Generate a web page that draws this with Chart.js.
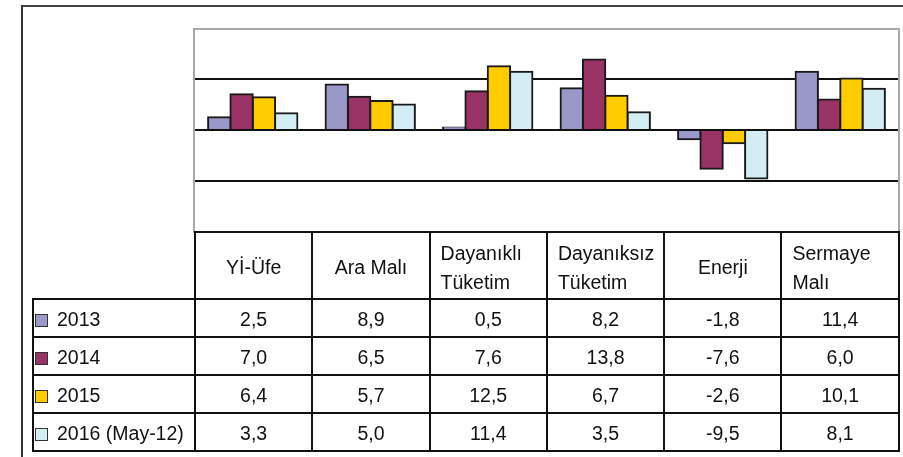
<!DOCTYPE html>
<html>
<head>
<meta charset="utf-8">
<script src="https://cdn.jsdelivr.net/npm/chart.js@4/dist/chart.umd.min.js"></script>
<style>
  html, body { margin: 0; padding: 0; background: #fff; }
  body { width: 903px; height: 457px; overflow: hidden; position: relative;
         font-family: "Liberation Sans", Arial, sans-serif; color: #111; }
  #frame { position: absolute; left: 21px; top: 5px; width: 920px; height: 480px;
           border-left: 2px solid #333; border-top: 2px solid #444; }
  #plotBorder { position: absolute; left: 193px; top: 28px; width: 707px; height: 205px;
                box-sizing: border-box; border: 2px solid #a9a9a9; border-bottom: none; pointer-events: none; }
  #wrap { position: absolute; left: 194px; top: 28px; width: 705px; height: 204px; }
  #tbl { position: absolute; left: 32px; top: 231px; border-collapse: collapse;
         table-layout: fixed; width: 866px; font-size: 19.5px; }
  #tbl td { border: 2px solid #111; padding: 0; white-space: nowrap; }
  #tbl tr.head td { height: 61px; line-height: 29px; padding-top: 4px; }
  #tbl tr.row td { height: 34px; text-align: center; padding-top: 2px; }
  #tbl td.blank { border-top: none; border-left: none; }
  #tbl td.h1 { text-align: center; }
  #tbl td.h2 { text-align: left; padding-left: 10px; }
  #tbl td.lg { text-align: left !important; padding-left: 1px; }
  .sw { display: inline-block; width: 11px; height: 11px; border: 1px solid #333;
        margin-right: 9px; vertical-align: -1px; }
</style>
</head>
<body>
<div id="frame"></div>
<div id="wrap"><canvas id="myChart" width="705" height="204"></canvas></div>
<div id="plotBorder"></div>
<table id="tbl"></table>
<script>
// categories (header of the data table)
var categories = ['Yİ-Üfe', 'Ara Malı', 'Dayanıklı\nTüketim', 'Dayanıksız\nTüketim', 'Enerji', 'Sermaye\nMalı'];
// series
var seriesNames = ['2013', '2014', '2015', '2016 (May-12)'];
var v2013 = [2.5, 8.9, 0.5, 8.2, -1.8, 11.4];
var v2014 = [7.0, 6.5, 7.6, 13.8, -7.6, 6.0];
var v2015 = [6.4, 5.7, 12.5, 6.7, -2.6, 10.1];
var v2016 = [3.3, 5.0, 11.4, 3.5, -9.5, 8.1];
var seriesColors = ['#9a97c9', '#993366', '#ffcc00', '#d3edf4'];
var yTicks = [-10, 0, 10];

var allValues = [v2013, v2014, v2015, v2016];

function fmt(v) {
  return v.toFixed(1).replace('.', ',');
}

// bars
var ctx = document.getElementById('myChart').getContext('2d');
var myChart = new Chart(ctx, {
  type: 'bar',
  data: {
    labels: categories,
    datasets: allValues.map(function (vals, i) {
      return {
        label: seriesNames[i],
        data: vals,
        backgroundColor: seriesColors[i],
        borderColor: '#1a1a1a',
        borderWidth: 2,
        inflateAmount: 1
      };
    })
  },
  options: {
    responsive: false,
    animation: false,
    devicePixelRatio: 1,
    layout: { padding: 0 },
    datasets: { bar: { categoryPercentage: 0.76, barPercentage: 1.0 } },
    plugins: { legend: { display: false }, tooltip: { enabled: false } },
    scales: {
      x: { display: false },
      y: {
        min: -20, max: 20,
        ticks: { display: false, stepSize: 10 },
        border: { display: false },
        grid: {
          drawTicks: false,
          lineWidth: 2,
          color: function (c) {
            return yTicks.indexOf(c.tick.value) >= 0 ? '#111' : 'rgba(0,0,0,0)';
          }
        }
      }
    }
  }
});

// data table under the chart
var tbl = document.getElementById('tbl');
var cg = '<colgroup><col style="width:162px">';
categories.forEach(function () { cg += '<col style="width:117.3px">'; });
cg += '</colgroup>';
var html = cg + '<tr class="head"><td class="blank"></td>';
categories.forEach(function (c) {
  var lines = c.split('\n');
  html += '<td class="' + (lines.length > 1 ? 'h2' : 'h1') + '">' + lines.join('<br>') + '</td>';
});
html += '</tr>';
seriesNames.forEach(function (name, i) {
  html += '<tr class="row"><td class="lg"><span class="sw" style="background:' + seriesColors[i] + '"></span>' + name + '</td>';
  allValues[i].forEach(function (v) { html += '<td>' + fmt(v) + '</td>'; });
  html += '</tr>';
});
tbl.innerHTML = html;
</script>
</body>
</html>
